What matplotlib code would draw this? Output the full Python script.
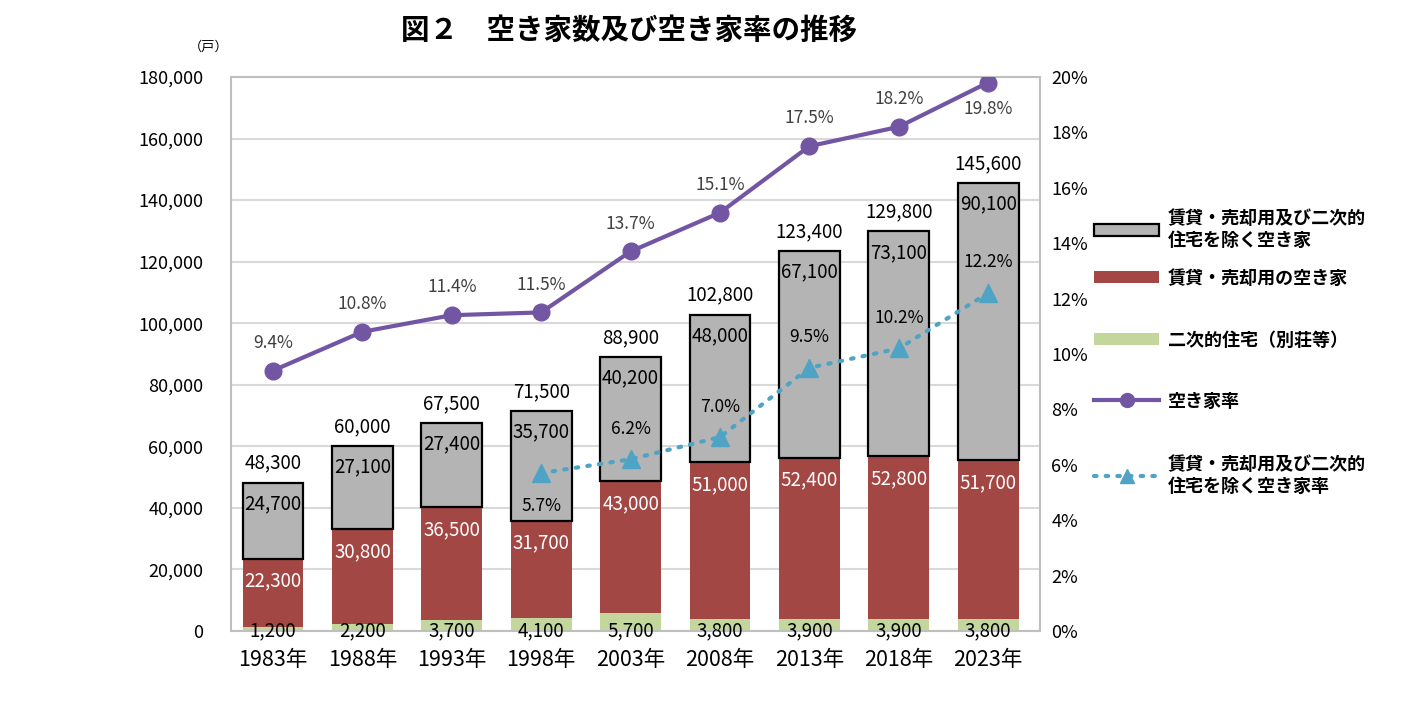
import matplotlib.pyplot as plt
from matplotlib.patches import Patch
from matplotlib.lines import Line2D
from matplotlib.ticker import FuncFormatter, MultipleLocator
import numpy as np

plt.rcParams['font.family'] = ['Noto Sans CJK JP', 'DejaVu Sans']

# data
years = ["1983年", "1988年", "1993年", "1998年", "2003年", "2008年", "2013年", "2018年", "2023年"]
second_homes = [1200, 2200, 3700, 4100, 5700, 3800, 3900, 3900, 3800]
rental_sale = [22300, 30800, 36500, 31700, 43000, 51000, 52400, 52800, 51700]
other_vacant = [24700, 27100, 27400, 35700, 40200, 48000, 67100, 73100, 90100]
totals = [48300, 60000, 67500, 71500, 88900, 102800, 123400, 129800, 145600]
vacancy_rate = [9.4, 10.8, 11.4, 11.5, 13.7, 15.1, 17.5, 18.2, 19.8]
other_rate_start = 3  # series starts in 1998
other_rate = [5.7, 6.2, 7.0, 9.5, 10.2, 12.2]

GRAY = "#B4B4B4"
RED = "#A34744"
GREEN = "#C3D69B"
PURPLE = "#7356A3"
TEAL = "#4FA3C4"
LBL = "#404040"

fig = plt.figure(figsize=(14.1, 7.18), dpi=100)
ax = fig.add_axes([0.1638, 0.1212, 0.5738, 0.7716])
x = np.arange(len(years))
w = 0.68

ax.bar(x, second_homes, w, color=GREEN, zorder=2)
ax.bar(x, rental_sale, w, bottom=second_homes, color=RED, zorder=2)
bottom2 = np.array(second_homes) + np.array(rental_sale)
ax.bar(x, other_vacant, w, bottom=bottom2, color=GRAY, edgecolor="black",
       linewidth=1.6, zorder=2)

ax.set_ylim(0, 180000)
ax.set_xlim(-0.47, len(years) - 0.42)
ax.yaxis.set_major_locator(MultipleLocator(20000))
ax.yaxis.set_major_formatter(FuncFormatter(lambda v, p: f"{int(v):,}"))
ax.grid(axis="y", color="#D9D9D9", linewidth=1.5, zorder=0)
ax.set_axisbelow(True)
ax.set_xticks(x)
ax.set_xticklabels(years, fontsize=15.5)
ax.tick_params(axis="y", length=0, labelsize=13, pad=20)
ax.tick_params(axis="x", length=0, pad=13)
for s in ax.spines.values():
    s.set_color("#BFBFBF")
    s.set_linewidth(1.5)

fs = 13.5
for i in range(len(years)):
    ax.annotate(f"{totals[i]:,}", (x[i], totals[i]), xytext=(0, 14),
                textcoords="offset points", ha="center", va="center", fontsize=fs)
    ax.annotate(f"{other_vacant[i]:,}", (x[i], bottom2[i] + other_vacant[i]),
                xytext=(0, -15), textcoords="offset points", ha="center",
                va="center", fontsize=fs)
    ax.annotate(f"{rental_sale[i]:,}", (x[i], bottom2[i]), xytext=(0, -16),
                textcoords="offset points", ha="center", va="center",
                fontsize=fs, color="white")
    ax.annotate(f"{second_homes[i]:,}", (x[i], 0), xytext=(0, 0),
                textcoords="offset points", ha="center", va="center", fontsize=fs)

ax2 = ax.twinx()
ax2.set_ylim(0, 20)
ax2.yaxis.set_major_locator(MultipleLocator(2))
ax2.yaxis.set_major_formatter(FuncFormatter(lambda v, p: f"{int(v)}%"))
ax2.tick_params(axis="y", length=0, labelsize=13, pad=8)
for s in ax2.spines.values():
    s.set_visible(False)

ax2.plot(x, vacancy_rate, color=PURPLE, linewidth=3, marker="o", markersize=12,
         zorder=5)
xr = x[other_rate_start:]
ax2.plot(xr, other_rate, color=TEAL, linewidth=3, linestyle=(0, (0.6, 2.2)),
         dash_capstyle="round", marker="^", markersize=13, zorder=4)

pfs = 12.5
for i, v in enumerate(vacancy_rate):
    off = -19 if i == len(vacancy_rate) - 1 else 20
    ax2.annotate(f"{v}%", (x[i], v), xytext=(0, off), textcoords="offset points",
                 ha="center", va="center", fontsize=pfs, color=LBL,
                 arrowprops=dict(arrowstyle="-", color="#A6A6A6", lw=1,
                                 shrinkA=6, shrinkB=0) if off < 0 else None)
for j, v in enumerate(other_rate):
    off = -24 if j == 0 else 22
    lead = j in (2, 4, 5)
    ax2.annotate(f"{v}%", (xr[j], v), xytext=(0, off), textcoords="offset points",
                 ha="center", va="center", fontsize=pfs, color="black",
                 arrowprops=dict(arrowstyle="-", color="#A6A6A6", lw=1,
                                 shrinkA=7, shrinkB=0) if lead else None)

fig.text(0.446, 0.957, "図２　空き家数及び空き家率の推移", ha="center", va="center",
         fontsize=20.5, fontweight="bold")
fig.text(0.148, 0.934, "（戸）", ha="center", va="center", fontsize=9.5)

handles = [
    Patch(facecolor=GRAY, edgecolor="black", linewidth=1.6),
    Patch(facecolor=RED),
    Patch(facecolor=GREEN),
    Line2D([], [], color=PURPLE, linewidth=3, marker="o", markersize=10),
    Line2D([], [], color=TEAL, linewidth=3, linestyle=(0, (0.6, 2.2)),
           dash_capstyle="round", marker="^", markersize=10),
]
labels = [
    "賃貸・売却用及び二次的\n住宅を除く空き家",
    "賃貸・売却用の空き家",
    "二次的住宅（別荘等）",
    "空き家率",
    "賃貸・売却用及び二次的\n住宅を除く空き家率",
]
# one legend per entry so the rows sit where the reference puts them
row_y = [229, 278, 340, 401, 475]
for h, lab, yy in zip(handles, labels, row_y):
    lg = fig.legend([h], [lab], loc="center left",
                    bbox_to_anchor=(0.776, 1 - yy / 718), frameon=False,
                    fontsize=13, handlelength=3.6, handleheight=0.6,
                    handletextpad=0.5, borderpad=0, borderaxespad=0)
    for t in lg.get_texts():
        t.set_fontweight("bold")

fig.savefig("out.png", dpi=100)
